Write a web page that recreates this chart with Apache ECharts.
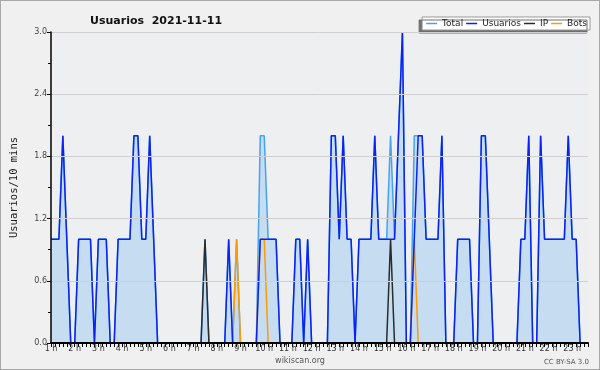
<!DOCTYPE html>
<html>
<head>
<meta charset="utf-8">
<script src="https://cdn.jsdelivr.net/npm/echarts@6/dist/echarts.min.js"></script>
<style>
  html, body { margin: 0; padding: 0; background: #f0f0f0; }
  #chart { width: 600px; height: 370px; box-sizing: border-box; border: 1px solid #a8a8a8; }
</style>
</head>
<body>
<div id="chart"></div>
<script>
// tick labels for every hour (one category every 10 mins, 6 per hour)
const hourLabels = ['1 h', '2 h', '3 h', '4 h', '5 h', '6 h', '7 h', '8 h', '9 h', '10 h', '11 h', '12 h',
    '13 h', '14 h', '15 h', '16 h', '17 h', '18 h', '19 h', '20 h', '21 h', '22 h', '23 h'];

// users per 10 minutes, 1:00 .. 23:40
const usuarios = [
    1, 1, 1, 2, 1, 0, 0, 1, 1, 1, 1, 0, 1, 1, 1, 0, 0, 1, 1, 1, 1, 2, 2, 1, 1, 2, 1, 0, 0, 0,
    0, 0, 0, 0, 0, 0, 0, 0, 0, 0, 0, 0, 0, 0, 0, 1, 0, 0, 0, 0, 0, 0, 0, 1, 1, 1, 1, 1, 0, 0,
    0, 0, 1, 1, 0, 1, 0, 0, 0, 0, 0, 2, 2, 1, 2, 1, 1, 0, 1, 1, 1, 1, 2, 1, 1, 1, 1, 1, 2, 3,
    0, 0, 1, 2, 2, 1, 1, 1, 1, 2, 0, 0, 0, 1, 1, 1, 1, 0, 0, 2, 2, 1, 0, 0, 0, 0, 0, 0, 0, 1,
    1, 2, 0, 0, 2, 1, 1, 1, 1, 1, 1, 2, 1, 1, 0, 0, 0
];
const ip = [
    0, 0, 0, 0, 0, 0, 0, 0, 0, 0, 0, 0, 0, 0, 0, 0, 0, 0, 0, 0, 0, 0, 0, 0, 0, 0, 0, 0, 0, 0,
    0, 0, 0, 0, 0, 0, 0, 0, 0, 1, 0, 0, 0, 0, 0, 0, 0, 0, 0, 0, 0, 0, 0, 0, 0, 0, 0, 0, 0, 0,
    0, 0, 0, 0, 0, 0, 0, 0, 0, 0, 0, 0, 0, 0, 0, 0, 0, 0, 0, 0, 0, 0, 0, 0, 0, 0, 1, 0, 0, 0,
    0, 0, 0, 0, 0, 0, 0, 0, 0, 0, 0, 0, 0, 0, 0, 0, 0, 0, 0, 0, 0, 0, 0, 0, 0, 0, 0, 0, 0, 0,
    0, 0, 0, 0, 0, 0, 0, 0, 0, 0, 0, 0, 0, 0, 0, 0, 0
];
const bots = [
    0, 0, 0, 0, 0, 0, 0, 0, 0, 0, 0, 0, 0, 0, 0, 0, 0, 0, 0, 0, 0, 0, 0, 0, 0, 0, 0, 0, 0, 0,
    0, 0, 0, 0, 0, 0, 0, 0, 0, 0, 0, 0, 0, 0, 0, 0, 0, 1, 0, 0, 0, 0, 0, 1, 1, 0, 0, 0, 0, 0,
    0, 0, 0, 0, 0, 0, 0, 0, 0, 0, 0, 0, 0, 0, 0, 0, 0, 0, 0, 0, 0, 0, 0, 0, 0, 0, 0, 0, 0, 0,
    0, 0, 1, 0, 0, 0, 0, 0, 0, 0, 0, 0, 0, 0, 0, 0, 0, 0, 0, 0, 0, 0, 0, 0, 0, 0, 0, 0, 0, 0,
    0, 0, 0, 0, 0, 0, 0, 0, 0, 0, 0, 0, 0, 0, 0, 0, 0
];
// total = usuarios + ip + bots
const total = usuarios.map((v, i) => v + ip[i] + bots[i]);

// category per 10-min slot
const slots = usuarios.map((v, i) => {
    const m = 60 + i * 10;
    return Math.floor(m / 60) + ':' + String(m % 60).padStart(2, '0');
});

const chart = echarts.init(document.getElementById('chart'));

function lineSeries(name, data, color, z) {
    return {
        name: name,
        type: 'line',
        data: data,
        symbol: 'none',
        z: z,
        lineStyle: { color: color, width: 1.5 },
        itemStyle: { color: color }
    };
}

const totalSeries = lineSeries('Total', total, '#45a3f2', 2);
totalSeries.areaStyle = { color: '#c6dcf0', opacity: 1 };

chart.setOption({
    backgroundColor: '#f0f0f0',
    animation: false,
    title: {
        text: 'Usuarios  2021-11-11',
        left: 84,
        top: 10,
        textStyle: { fontFamily: 'DejaVu Sans', fontWeight: 'bold', fontSize: 11, color: '#111' }
    },
    legend: {
        right: 9,
        top: 16,
        icon: 'rect',
        itemWidth: 11,
        itemHeight: 1.5,
        itemGap: 3,
        padding: [2, 3, 2, 4],
        backgroundColor: '#fff',
        borderColor: '#999',
        borderWidth: 1,
        shadowColor: '#6e6e6e',
        shadowBlur: 0,
        shadowOffsetX: -3,
        shadowOffsetY: 3,
        textStyle: { fontFamily: 'DejaVu Sans', fontSize: 9, color: '#222', padding: [0, 0, 0, 0] },
        data: ['Total', 'Usuarios', 'IP', 'Bots']
    },
    grid: {
        left: 45,
        right: 11,
        top: 31,
        bottom: 26,
        show: true,
        backgroundColor: '#eeeff1',
        borderWidth: 0
    },
    xAxis: {
        type: 'category',
        data: slots,
        boundaryGap: false,
        z: 10,
        axisLine: { lineStyle: { color: '#000', width: 2 } },
        axisTick: { show: true, interval: 0, length: 4, lineStyle: { color: '#000' } },
        axisLabel: {
            interval: 5,
            margin: 2,
            fontFamily: 'DejaVu Sans',
            fontSize: 8,
            color: '#333',
            formatter: (v, i) => hourLabels[i / 6]
        },
        splitLine: { show: false }
    },
    yAxis: {
        type: 'value',
        min: 0,
        max: 3,
        interval: 0.6,
        z: 10,
        name: 'Usuarios/10 mins',
        nameLocation: 'middle',
        nameGap: 31,
        nameTextStyle: { fontFamily: 'DejaVu Sans Mono', fontSize: 10.5, color: '#222' },
        axisLine: { show: true, lineStyle: { color: '#000', width: 1.5 } },
        axisTick: { show: true, length: 4, lineStyle: { color: '#000' } },
        minorTick: { show: true, splitNumber: 2, length: 3, lineStyle: { color: '#000' } },
        axisLabel: {
            margin: 4,
            fontFamily: 'DejaVu Sans',
            fontSize: 8,
            color: '#444',
            formatter: v => v.toFixed(1)
        },
        splitLine: { show: true, lineStyle: { color: '#cfcfd2', width: 1 } }
    },
    graphic: [
        {
            type: 'text',
            left: 'center',
            top: 356,
            style: { text: 'wikiscan.org', fontFamily: 'DejaVu Sans', fontSize: 8, fill: '#555' }
        },
        {
            type: 'text',
            right: 10,
            top: 358,
            style: { text: 'CC BY-SA 3.0', fontFamily: 'DejaVu Sans', fontSize: 7, fill: '#555' }
        }
    ],
    series: [
        totalSeries,
        lineSeries('Bots', bots, '#ff9a00', 3),
        lineSeries('IP', ip, '#2b2b2b', 4),
        lineSeries('Usuarios', usuarios, '#0a22f5', 5)
    ]
});
</script>
</body>
</html>
